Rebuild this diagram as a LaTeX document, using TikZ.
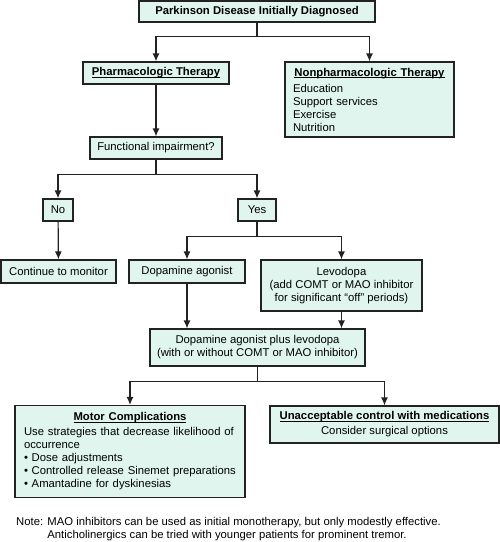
\documentclass[tikz,border=0pt]{standalone}
\usepackage{fontspec}
\setmainfont{Liberation Sans}
\usepackage{tikz}
\usetikzlibrary{arrows.meta,positioning,calc}
\definecolor{PDMint}{HTML}{DFF5EE}
\definecolor{PDLine}{HTML}{222222}
\newlength\pdlen
\newcommand{\pdhead}[1]{\settowidth{\pdlen}{\textbf{#1}}\textbf{#1}\hspace{-\pdlen}\rule[-1.8pt]{\pdlen}{0.7pt}}

\begin{document}
\begin{tikzpicture}[
    x=1pt,y=-1pt,
    box/.style={draw=PDLine,line width=1.2pt,fill=PDMint,inner sep=0pt,
      align=center,font=\fontsize{11.3}{13}\selectfont},
    listbox/.style={box,align=left,inner ysep=0pt},
    arrow/.style={-{Latex[length=8pt,width=7pt]},line width=1.2pt,draw=PDLine},
    link/.style={line width=1.2pt,draw=PDLine}
  ]
    \useasboundingbox (0,0) rectangle (500,542);
    \node[box,minimum width=236pt,minimum height=21pt] (diag) at (257,11.5)
      {\textbf{Parkinson Disease Initially Diagnosed}};
    \node[box,minimum width=146pt,minimum height=22pt] (pharm) at (156,73)
      {\pdhead{Pharmacologic Therapy}};
    \node[listbox,inner xsep=8pt,text width=153pt,minimum height=75pt] (nonpharm) at (369.5,99.5)
      {\hfill\pdhead{Nonpharmacologic Therapy}\hfill\null\\[3pt]
       Education\\Support services\\Exercise\\Nutrition};
    \node[box,minimum width=132pt,minimum height=22pt] (impair) at (156,148)
      {Functional impairment?};
    \node[box,minimum width=30pt,minimum height=22pt] (no) at (58,210) {No};
    \node[box,minimum width=38pt,minimum height=22pt] (yes) at (257,210) {Yes};
    \node[box,minimum width=115pt,minimum height=23pt] (monitor) at (58.5,271.5)
      {Continue to monitor};
    \node[box,minimum width=116pt,minimum height=23pt] (agonist) at (187,271.5)
      {Dopamine agonist};
    \node[box,minimum width=161pt,minimum height=51pt] (levodopa) at (341.5,285.5)
      {Levodopa\\(add COMT or MAO inhibitor\\for significant “off” periods)};
    \node[box,minimum width=215pt,minimum height=37pt] (combo) at (257.5,347.5)
      {Dopamine agonist plus levodopa\\(with or without COMT or MAO inhibitor)};
    \node[listbox,inner xsep=9pt,text width=212pt,minimum height=92pt] (motor) at (130,451.5)
      {\hfill\pdhead{Motor Complications}\hfill\null\\[2pt]
       Use strategies that decrease likelihood of occurrence\\
       • Dose adjustments\\
       • Controlled release Sinemet preparations\\
       • Amantadine for dyskinesias};
    \node[box,minimum width=229pt,minimum height=37pt] (surgery) at (384.5,424.5)
      {\pdhead{Unacceptable control with medications}\\[2pt]
       Consider surgical options};
    \node[anchor=west,inner sep=0pt,align=left,font=\fontsize{11.3}{13}\selectfont] (note) at (16,529.5)
      {Note: \begin{tabular}[t]{@{}l@{}}MAO inhibitors can be used as initial monotherapy, but only modestly effective.\\
       Anticholinergics can be tried with younger patients for prominent tremor.\end{tabular}};
    % branches
    \draw[link] (diag.south) -- ($(diag.south)+(0,14)$) coordinate (split1);
    \draw[arrow] (split1) -| (pharm.north);
    \draw[arrow] (split1) -| (nonpharm.north);
    \draw[arrow] (pharm) -- (impair);
    \draw[link] (impair.south) -- ($(impair.south)+(0,15)$) coordinate (split2);
    \draw[arrow] (split2) -| (no.north);
    \draw[arrow] (split2) -| (yes.north);
    \draw[arrow] (no) -- (monitor);
    \draw[link] (yes.south) -- ($(yes.south)+(0,15)$) coordinate (split3);
    \draw[arrow] (split3) -| (agonist.north);
    \draw[arrow] (split3) -| (levodopa.north);
    \draw[arrow] (agonist.south) -- (agonist.south |- combo.north);
    \draw[arrow] (levodopa.south) -- (levodopa.south |- combo.north);
    \draw[link] (combo.south) -- ($(combo.south)+(0,15)$) coordinate (split4);
    \draw[arrow] (split4) -| (motor.north);
    \draw[arrow] (split4) -| (surgery.north);
  \end{tikzpicture}
\end{document}
